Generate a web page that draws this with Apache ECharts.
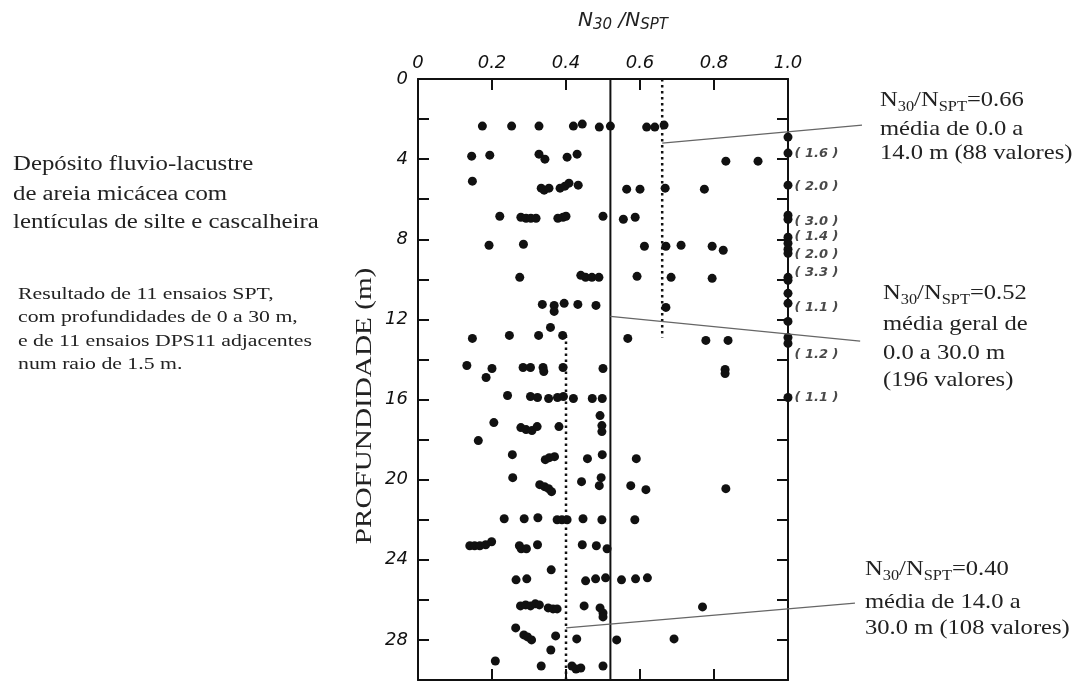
<!DOCTYPE html>
<html>
<head>
<meta charset="utf-8">
<script src="https://cdn.jsdelivr.net/npm/echarts@6/dist/echarts.min.js"></script>
<style>
  html, body { margin: 0; background: #fff; }
  #chart { width: 1077px; height: 684px; }
</style>
</head>
<body>
<div id="chart"></div>
<script>
// N30/NSPT (x) vs profundidade em m (y)
const pontosSup = [
  [0.174, 2.35], [0.253, 2.35], [0.327, 2.35], [0.420, 2.35], [0.444, 2.25], [0.490, 2.4], [0.520, 2.35], [0.618, 2.4], [0.640, 2.4], [0.665, 2.3],
  [0.145, 3.85], [0.194, 3.8], [0.327, 3.75], [0.343, 4.0], [0.403, 3.9], [0.430, 3.75], [0.832, 4.1], [0.919, 4.1],
  [0.147, 5.1], [0.333, 5.45], [0.341, 5.55], [0.354, 5.45], [0.384, 5.45], [0.397, 5.35], [0.408, 5.2], [0.433, 5.3], [0.564, 5.5], [0.600, 5.5], [0.668, 5.45], [0.774, 5.5],
  [0.221, 6.85], [0.278, 6.9], [0.292, 6.95], [0.305, 6.95], [0.319, 6.95], [0.378, 6.95], [0.392, 6.9], [0.400, 6.85], [0.500, 6.85], [0.555, 7.0], [0.587, 6.9],
  [0.192, 8.3], [0.285, 8.25], [0.612, 8.35], [0.670, 8.35], [0.711, 8.3], [0.795, 8.35], [0.825, 8.55],
  [0.275, 9.9], [0.440, 9.8], [0.453, 9.9], [0.470, 9.9], [0.489, 9.9], [0.592, 9.85], [0.684, 9.9], [0.795, 9.95],
  [0.336, 11.25], [0.368, 11.3], [0.368, 11.6], [0.395, 11.2], [0.432, 11.25], [0.481, 11.3], [0.670, 11.4],
  [0.358, 12.4],
  [0.147, 12.95], [0.247, 12.8], [0.326, 12.8], [0.391, 12.8], [0.567, 12.95], [0.778, 13.05], [0.838, 13.05]
]
const pontosInf = [
  [0.132, 14.3], [0.184, 14.9], [0.200, 14.45], [0.284, 14.4], [0.304, 14.4], [0.338, 14.4], [0.340, 14.6], [0.392, 14.4], [0.500, 14.45], [0.830, 14.5], [0.830, 14.7],
  [0.242, 15.8], [0.304, 15.85], [0.323, 15.9], [0.353, 15.95], [0.377, 15.9], [0.393, 15.85], [0.420, 15.95], [0.471, 15.95], [0.498, 15.95],
  [0.205, 17.15], [0.163, 18.05], [0.278, 17.4], [0.292, 17.5], [0.308, 17.55], [0.322, 17.35], [0.381, 17.35], [0.492, 16.8], [0.497, 17.3], [0.497, 17.6],
  [0.255, 18.75], [0.344, 19.0], [0.355, 18.9], [0.369, 18.85], [0.458, 18.95], [0.498, 18.75], [0.590, 18.95],
  [0.256, 19.9], [0.329, 20.25], [0.342, 20.35], [0.353, 20.45], [0.361, 20.6], [0.442, 20.1], [0.495, 19.9], [0.490, 20.3], [0.575, 20.3], [0.616, 20.5], [0.832, 20.45],
  [0.233, 21.95], [0.287, 21.95], [0.324, 21.9], [0.376, 22.0], [0.389, 22.0], [0.403, 22.0], [0.446, 21.95], [0.497, 22.0], [0.586, 22.0],
  [0.140, 23.3], [0.153, 23.3], [0.167, 23.3], [0.183, 23.25], [0.199, 23.1], [0.274, 23.3], [0.279, 23.45], [0.293, 23.45], [0.323, 23.25], [0.444, 23.25], [0.482, 23.3], [0.511, 23.45],
  [0.360, 24.5],
  [0.265, 25.0], [0.294, 24.95], [0.453, 25.05], [0.480, 24.95], [0.507, 24.9], [0.550, 25.0], [0.588, 24.95], [0.620, 24.9],
  [0.277, 26.3], [0.291, 26.25], [0.304, 26.3], [0.317, 26.2], [0.328, 26.25], [0.352, 26.4], [0.365, 26.45], [0.376, 26.45], [0.449, 26.3], [0.492, 26.4], [0.500, 26.65], [0.500, 26.85], [0.769, 26.35],
  [0.264, 27.4], [0.286, 27.75], [0.296, 27.85], [0.307, 28.0], [0.372, 27.8], [0.359, 28.5], [0.429, 27.95], [0.537, 28.0], [0.692, 27.95],
  [0.209, 29.05], [0.333, 29.3], [0.416, 29.3], [0.427, 29.45], [0.440, 29.4], [0.500, 29.3]
]
// valores >= 1.0 (plotados em 1.0)
const profundidadesUm = [2.9, 3.7, 5.3, 6.8, 7.0, 7.9, 8.2, 8.5, 8.7, 9.9, 10.05, 10.7, 11.2, 12.1, 12.9, 13.2, 15.9]
const rotulosUm = [[3.74, '(1.6)'], [5.39, '(2.0)'], [7.14, '(3.0)'], [7.89, '(1.4)'], [8.79, '(2.0)'], [9.69, '(3.3)'], [11.43, '(1.1)'], [13.78, '(1.2)'], [15.88, '(1.1)']]

// medias
const mediaGeral = [[0.52, 0], [0.52, 30]]
const mediaSup = [[0.66, 0], [0.66, 12.9]]
const mediaInf = [[0.40, 12.8], [0.40, 30]]
// linhas de chamada
const chamada1 = [[0.66, 3.2], [1.2, 2.3]]
const chamada2 = [[0.52, 11.85], [1.195, 13.08]]
const chamada3 = [[0.40, 27.4], [1.181, 26.16]]

const serif = '"Liberation Serif", "Times New Roman", serif'
const sans = '"DejaVu Sans", sans-serif'
const ink = '#111'

function texto(x, base, t, size, sx) {
  return {
    type: 'text', x: x, y: base - 0.34 * size, scaleX: sx,
    style: { text: t, fontFamily: serif, fontSize: size, fill: '#222', verticalAlign: 'middle' }
  }
}
function razao(x, base, valor) {
  return {
    type: 'text', x: x, y: base - 0.34 * 21, scaleX: 1.17,
    style: {
      text: '{n|N}{s|30}{n|/N}{s|SPT}{n|=' + valor + '}',
      verticalAlign: 'middle', fill: '#222',
      rich: {
        n: { fontFamily: serif, fontSize: 21, verticalAlign: 'middle' },
        s: { fontFamily: serif, fontSize: 14, padding: [13, 0, 0, 0], verticalAlign: 'middle' }
      }
    }
  }
}

const axisBase = {
  axisLine: { show: true, onZero: false, lineStyle: { color: ink, width: 2 } },
  axisTick: { show: true, inside: true, length: 11, lineStyle: { color: ink, width: 2 } },
  splitLine: { show: false }
}
const chamadaStyle = { color: '#666', width: 1.3 }

const chart = echarts.init(document.getElementById('chart'))
chart.setOption({
  animation: false,
  backgroundColor: '#fff',
  grid: [
    { left: 418, top: 79, width: 370, height: 601 },
    // grade auxiliar (mesma escala, mais larga) para as linhas de chamada
    { left: 418, top: 79, width: 481, height: 601 }
  ],
  xAxis: [
    Object.assign({
      type: 'value', position: 'top', min: 0, max: 1, interval: 0.2,
      axisLabel: {
        formatter: v => v === 0 ? '0' : v.toFixed(1),
        fontFamily: sans, fontStyle: 'italic', fontSize: 18, color: ink, margin: 7
      }
    }, axisBase),
    Object.assign({
      type: 'value', position: 'bottom', min: 0, max: 1, interval: 0.2,
      axisLabel: { show: false }
    }, axisBase),
    { type: 'value', gridIndex: 1, min: 0, max: 1.3, show: false }
  ],
  yAxis: [
    Object.assign({
      type: 'value', position: 'left', inverse: true, min: 0, max: 30, interval: 2,
      axisLabel: {
        formatter: v => (v % 4 === 0 && v < 30) ? String(v) : '',
        fontFamily: sans, fontStyle: 'italic', fontSize: 18, color: ink, margin: 10
      }
    }, axisBase),
    Object.assign({
      type: 'value', position: 'right', inverse: true, min: 0, max: 30, interval: 2,
      axisLabel: { show: false }
    }, axisBase),
    { type: 'value', gridIndex: 1, inverse: true, min: 0, max: 30, show: false }
  ],
  series: [
    { type: 'line', data: mediaGeral, symbol: 'none', lineStyle: { color: ink, width: 2 } },
    { type: 'line', data: mediaSup, symbol: 'none', lineStyle: { color: ink, width: 2.5, type: [2.5, 3.5] } },
    { type: 'line', data: mediaInf, symbol: 'none', lineStyle: { color: ink, width: 2.5, type: [2.5, 3.5] } },
    { type: 'line', xAxisIndex: 2, yAxisIndex: 2, data: chamada1, symbol: 'none', lineStyle: chamadaStyle },
    { type: 'line', xAxisIndex: 2, yAxisIndex: 2, data: chamada2, symbol: 'none', lineStyle: chamadaStyle },
    { type: 'line', xAxisIndex: 2, yAxisIndex: 2, data: chamada3, symbol: 'none', lineStyle: chamadaStyle },
    { type: 'scatter', data: pontosSup.concat(pontosInf), symbolSize: 9, clip: false, itemStyle: { color: ink, opacity: 1 } },
    { type: 'scatter', data: profundidadesUm.map(d => [1.0, d]), symbolSize: 9, clip: false, itemStyle: { color: ink, opacity: 1 } },
    {
      type: 'scatter', silent: true, clip: false, symbolSize: 1,
      itemStyle: { color: 'transparent' },
      data: rotulosUm.map(r => ({ value: [1.0, r[0]], name: r[1] })),
      label: {
        show: true, position: 'right', distance: 6,
        formatter: p => p.name.replace('(', '( ').replace(')', ' )'),
        fontFamily: sans, fontStyle: 'italic', fontWeight: 'bold', fontSize: 13, color: '#1a1a1a'
      }
    }
  ],
  graphic: [
    {
      type: 'text', x: 623, y: 21,
      style: {
        text: '{n|N}{s|30}{n| /N}{s|SPT}', align: 'center', verticalAlign: 'middle', fill: '#222',
        rich: {
          n: { fontFamily: sans, fontStyle: 'italic', fontSize: 20, verticalAlign: 'middle' },
          s: { fontFamily: sans, fontStyle: 'italic', fontSize: 15, padding: [9, 0, 0, 0], verticalAlign: 'middle' }
        }
      }
    },
    {
      type: 'text', x: 365, y: 406, rotation: Math.PI / 2, scaleX: 1.27,
      style: { text: 'PROFUNDIDADE (m)', fontFamily: serif, fontSize: 23, fill: '#222', align: 'center', verticalAlign: 'middle' }
    },
    texto(13, 172, 'Depósito fluvio-lacustre', 20, 1.24),
    texto(13, 202, 'de areia micácea com', 20, 1.24),
    texto(13, 230, 'lentículas de silte e cascalheira', 20, 1.24),
    texto(18, 300, 'Resultado de 11 ensaios SPT,', 16, 1.36),
    texto(18, 323, 'com profundidades de 0 a 30 m,', 16, 1.36),
    texto(18, 347, 'e de 11 ensaios DPS11 adjacentes', 16, 1.36),
    texto(18, 370, 'num raio de 1.5 m.', 16, 1.36),
    razao(880, 108, '0.66'),
    texto(880, 137, 'média de 0.0 a', 21, 1.17),
    texto(880, 161, '14.0 m (88 valores)', 21, 1.17),
    razao(883, 301, '0.52'),
    texto(883, 332, 'média geral de', 21, 1.17),
    texto(883, 361, '0.0 a 30.0 m', 21, 1.17),
    texto(883, 388, '(196 valores)', 21, 1.17),
    razao(865, 577, '0.40'),
    texto(865, 610, 'média de 14.0 a', 21, 1.17),
    texto(865, 636, '30.0 m (108 valores)', 21, 1.17)
  ]
})
</script>
</body>
</html>
